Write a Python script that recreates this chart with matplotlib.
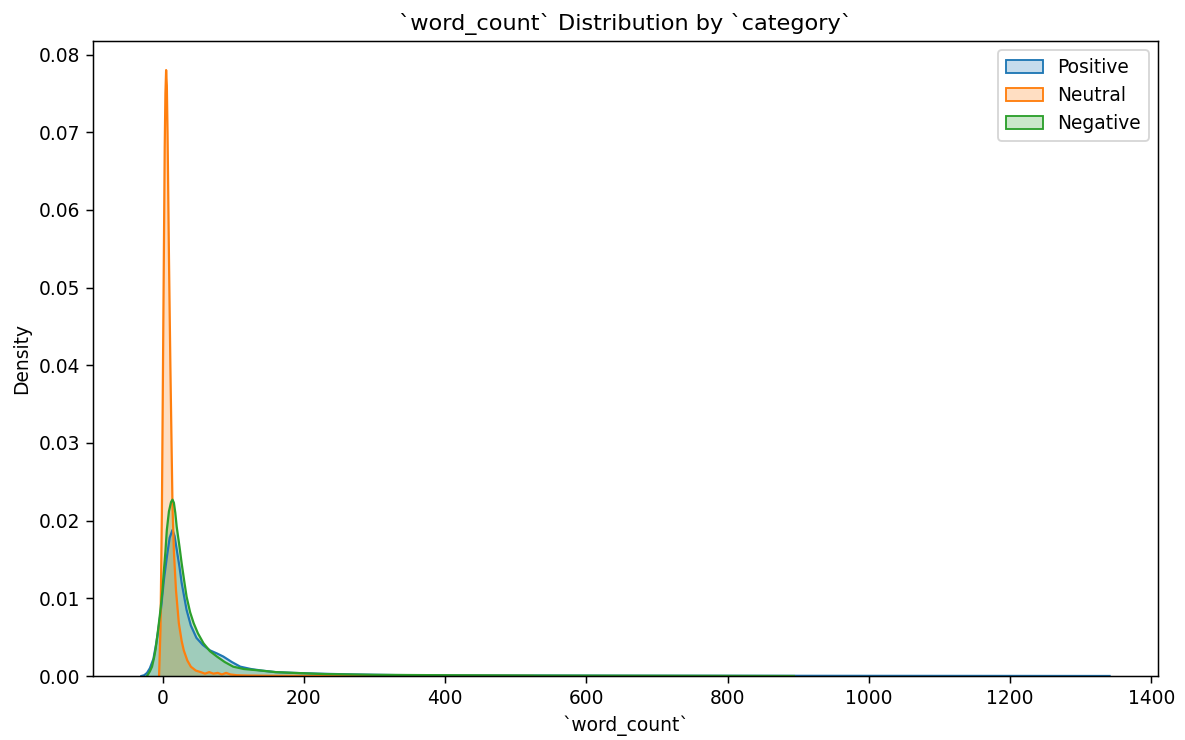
import matplotlib
matplotlib.use("Agg")
import matplotlib.pyplot as plt
from matplotlib.patches import Patch
import numpy as np

categories = ["Positive", "Neutral", "Negative"]
colors = ["#1f77b4", "#ff7f0e", "#2ca02c"]

# Density curves (word_count, density)
positive_x = [-30, -26, -22, -18, -13, -9, -6, -3, -1, 2, 6, 10, 14, 17, 20, 24, 27, 31, 34, 40,
              48, 57, 67, 77, 86, 98, 110, 125, 140, 160, 185, 220, 270, 330, 420, 520, 650, 800,
              1000, 1200, 1341]
positive_d = [0, 0.0001, 0.0004, 0.0010, 0.0022, 0.0042, 0.0060, 0.0080, 0.0098, 0.0125, 0.0153,
              0.0178, 0.0188, 0.0180, 0.0163, 0.0140, 0.0120, 0.0100, 0.0085, 0.0065, 0.0049,
              0.0040, 0.0033, 0.0029, 0.0025, 0.0018, 0.0012, 0.0009, 0.0007, 0.0005, 0.0004,
              0.0003, 0.0002, 0.00012, 0.00008, 0.00006, 0.00004, 0.00003, 0.00002, 0.00001, 0]

neutral_x = [-5, -3, -1, 1, 3, 4, 5, 6, 7, 9, 11, 13, 14, 16, 19, 23, 27, 30, 35, 40, 47, 54, 60,
             66, 72, 78, 84, 90, 96, 105, 120, 150, 200, 300, 400, 524]
neutral_d = [0, 0.006, 0.021, 0.045, 0.068, 0.075, 0.078, 0.076, 0.070, 0.054, 0.040, 0.028,
             0.022, 0.016, 0.011, 0.0068, 0.0045, 0.0033, 0.0020, 0.0012, 0.0007, 0.0005, 0.0003,
             0.0005, 0.0003, 0.0004, 0.0002, 0.0004, 0.0002, 0.0001, 0.00006, 0.00003, 0.00002,
             0.00001, 0.00001, 0]

negative_x = [-22, -18, -15, -12, -10, -7, -3, 0, 1.5, 4, 6, 9, 12, 14, 16, 18, 20, 24, 27, 31, 34,
              39, 44, 50, 58, 67, 77, 88, 100, 115, 139, 160, 186, 230, 300, 400, 520, 650, 780, 894]
negative_d = [0, 0.0006, 0.0012, 0.0024, 0.0034, 0.0055, 0.0085, 0.0112, 0.0132, 0.0160, 0.0188,
              0.0212, 0.0224, 0.0227, 0.0223, 0.0210, 0.0192, 0.0166, 0.0145, 0.0120, 0.0102,
              0.0082, 0.0068, 0.0055, 0.0042, 0.0032, 0.0025, 0.0018, 0.0012, 0.0009, 0.0007,
              0.0005, 0.0004, 0.00025, 0.00015, 0.0001, 0.00006, 0.00004, 0.00002, 0]

series = [(positive_x, positive_d), (neutral_x, neutral_d), (negative_x, negative_d)]

DPI = 134
fig = plt.figure(figsize=(1185 / DPI, 740 / DPI), dpi=DPI)
ax = fig.add_axes([93 / 1185, 1 - 676 / 740, (1158 - 93) / 1185, (676 - 41) / 740])

for (xs, ds), c in zip(series, colors):
    xs = np.asarray(xs, float)
    ds = np.asarray(ds, float)
    ax.fill_between(xs, ds, 0, facecolor=c, alpha=0.25, linewidth=0)
    ax.plot(xs, ds, color=c, linewidth=1.2)

ax.margins(x=0.05, y=0.05)
ax.set_ylim(0, max(neutral_d) * 1.048)
ax.set_xticks([0, 200, 400, 600, 800, 1000, 1200, 1400])
ax.set_title("`word_count` Distribution by `category`", fontsize=12)
ax.set_xlabel("`word_count`")
ax.set_ylabel("Density")

handles = [Patch(facecolor=matplotlib.colors.to_rgba(c, 0.25), edgecolor=c, linewidth=1.0,
                 label=l) for c, l in zip(colors, categories)]
ax.legend(handles=handles, loc="upper right")

fig.savefig("out.png", dpi=DPI)
